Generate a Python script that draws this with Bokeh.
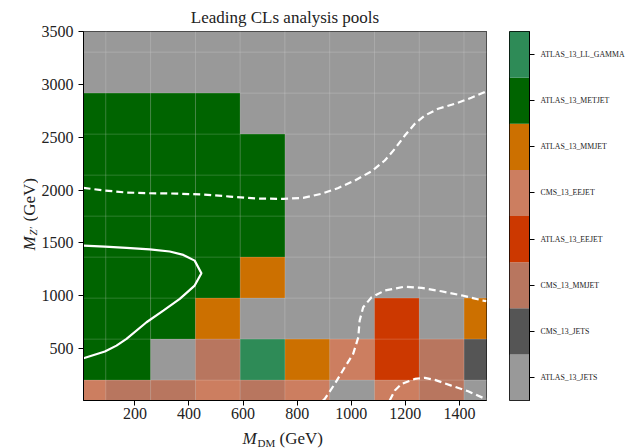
import math
from bokeh.plotting import figure
from bokeh.layouts import row, column
from bokeh.models import FixedTicker, Range1d, ColumnDataSource
from bokeh.core.properties import value
from bokeh.embed import file_html
from bokeh.resources import INLINE

# ---------------- data ----------------
m_dm = [10, 175.6, 341.1, 506.7, 672.2, 837.8, 1003.3, 1168.9, 1334.4, 1500]
m_zp = [10, 397.8, 785.6, 1173.3, 1561.1, 1948.9, 2336.7, 2724.4, 3112.2, 3500]

# colour bar order, bottom to top
pool_names = ["ATLAS_13_JETS", "CMS_13_JETS", "CMS_13_MMJET", "ATLAS_13_EEJET",
              "CMS_13_EEJET", "ATLAS_13_MMJET", "ATLAS_13_METJET", "ATLAS_13_LL_GAMMA"]
pool_colors = ["#999999", "#555555", "#b8765f", "#cc3800",
               "#cc7e60", "#cc7000", "#006400", "#2e8b57"]

J, CJ, CM, AE, CE, AM, MET, LL = pool_names
# rows from lowest M_Z' to highest, columns from lowest M_DM to highest
leading_pool = [
    [CE, CM, CM, CE, CM, CE, J, CE, CM, J],
    [MET, MET, J, CM, LL, AM, CE, AE, CM, CJ],
    [MET, MET, MET, AM, J, J, J, AE, J, AM],
    [MET, MET, MET, MET, AM, J, J, J, J, J],
    [MET, MET, MET, MET, MET, J, J, J, J, J],
    [MET, MET, MET, MET, MET, J, J, J, J, J],
    [MET, MET, MET, MET, MET, J, J, J, J, J],
    [MET, MET, MET, MET, J, J, J, J, J, J],
    [J, J, J, J, J, J, J, J, J, J],
    [J, J, J, J, J, J, J, J, J, J],
]

# exclusion contours
solid_x = [10, 89, 169, 255, 329, 379, 421, 446, 421, 366, 305, 243, 169, 132, 89, 10]
solid_y = [1475, 1466, 1454, 1440, 1419, 1387, 1333, 1213, 1097, 971, 860, 750, 593, 529, 473, 409]

dashA_x = [10, 89, 169, 255, 354, 452, 551, 650, 748, 822, 890, 952, 1013, 1075,
           1124, 1161, 1198, 1235, 1272, 1321, 1383, 1444, 1500]
dashA_y = [2021, 1996, 1977, 1970, 1967, 1958, 1939, 1920, 1917, 1927, 1965, 2020, 2090, 2178,
           2280, 2390, 2516, 2627, 2705, 2769, 2816, 2873, 2935]

dashB_x = [895, 902, 939, 976, 1007, 1026, 1031, 1044, 1075, 1124, 1198, 1260, 1333, 1407, 1488, 1500]
dashB_y = [10, 25, 167, 324, 451, 608, 766, 892, 986, 1050, 1087, 1075, 1043, 1005, 955, 950]

dashC_x = [1142, 1161, 1186, 1235, 1272, 1309, 1370, 1432, 1488, 1500]
dashC_y = [10, 104, 167, 214, 224, 205, 151, 97, 34, 25]

# ---------------- layout constants ----------------
FONT = "Liberation Serif"
TXT = "#222222"
LEFT_W = 38          # strip holding the y-axis title
TOP, FRAME_H, BOT = 31, 369, 25

# ---------------- main heat map ----------------
p = figure(frame_width=403, frame_height=FRAME_H, output_backend="svg", toolbar_location=None,
           x_range=Range1d(10, 1500), y_range=Range1d(10, 3500),
           min_border_left=82 - LEFT_W, min_border_right=5, min_border_top=TOP,
           min_border_bottom=BOT, title="Leading CLs analysis pools")
p.title.align = "center"
p.title.text_font = FONT
p.title.text_font_size = "17px"
p.title.text_font_style = "normal"
p.title.text_color = TXT

dx = m_dm[1] - m_dm[0]
dy = m_zp[1] - m_zp[0]
cx, cy, cc = [], [], []
for j, r in enumerate(leading_pool):
    for i, name in enumerate(r):
        cx.append(m_dm[i])
        cy.append(m_zp[j])
        cc.append(pool_colors[pool_names.index(name)])
src = ColumnDataSource(dict(x=cx, y=cy, c=cc))
p.rect(x="x", y="y", width=dx, height=dy, fill_color="c", source=src,
       line_color="white", line_alpha=0.12, line_width=1)

p.line(solid_x, solid_y, line_color="white", line_width=2.2)
for xs, ys in [(dashA_x, dashA_y), (dashB_x, dashB_y), (dashC_x, dashC_y)]:
    p.line(xs, ys, line_color="white", line_width=2.2, line_dash="7 4")

p.grid.visible = False
p.outline_line_color = "black"
p.outline_line_width = 1
p.background_fill_color = "#999999"

for ax in (p.xaxis[0], p.yaxis[0]):
    ax.major_label_text_font = FONT
    ax.major_label_text_font_size = "16px"
    ax.major_label_text_color = TXT
    ax.minor_tick_line_color = None
    ax.major_tick_in = 0
    ax.major_tick_out = 5
    ax.axis_line_color = "black"
    ax.major_tick_line_color = "black"
p.xaxis.ticker = FixedTicker(ticks=[200, 400, 600, 800, 1000, 1200, 1400])
p.yaxis.ticker = FixedTicker(ticks=[500, 1000, 1500, 2000, 2500, 3000, 3500])
p.xaxis.major_label_standoff = 2
p.yaxis.major_label_standoff = 5

# ---------------- colour bar (categorical) ----------------
cb = figure(frame_width=20, frame_height=FRAME_H, output_backend="svg", toolbar_location=None,
            x_range=Range1d(0, 1), y_range=Range1d(0, len(pool_names)),
            min_border_left=18, min_border_right=0, min_border_top=TOP,
            min_border_bottom=BOT, x_axis_location=None, y_axis_location="right")
cb.quad(left=0, right=1, bottom=list(range(len(pool_names))),
        top=[k + 1 for k in range(len(pool_names))], fill_color=pool_colors, line_color=None)
cb.grid.visible = False
cb.outline_line_color = "black"
cb.outline_line_width = 1
ticks = [k + 0.5 for k in range(len(pool_names))]
cb.yaxis.ticker = FixedTicker(ticks=ticks)
cb.yaxis.major_label_overrides = {t: n for t, n in zip(ticks, pool_names)}
cb.yaxis.major_label_text_font = FONT
cb.yaxis.major_label_text_font_size = "7.8px"
cb.yaxis.major_label_text_color = TXT
cb.yaxis.major_tick_in = 0
cb.yaxis.major_tick_out = 5
cb.yaxis.minor_tick_line_color = None
cb.yaxis.major_label_standoff = 6
cb.yaxis.axis_line_color = "black"


# ---------------- axis titles (italic M with subscript) ----------------
def strip(w, h, x0, y0):
    # bare figure whose data units equal page pixels (x rightwards, y up from page bottom)
    s = figure(frame_width=w, frame_height=h, output_backend="svg", toolbar_location=None,
               x_range=Range1d(x0, x0 + w), y_range=Range1d(448 - y0 - h, 448 - y0),
               min_border=0, outline_line_color=None,
               x_axis_location=None, y_axis_location=None)
    s.grid.visible = False
    return s


def put(s, x, y, text, size, style="normal", angle=0.0):
    s.text(x=[x], y=[448 - y], text=[text], text_font=value(FONT), text_font_size=size,
           text_font_style=style, text_color=TXT, text_align="left",
           text_baseline="alphabetic", angle=angle)


bottom = strip(625 - LEFT_W, 448 - (TOP + FRAME_H + BOT), LEFT_W, TOP + FRAME_H + BOT)
put(bottom, 242, 438, "M", "17px", "italic")
put(bottom, 257, 442, "DM", "11px")
put(bottom, 279, 438, "(GeV)", "17px")

left = strip(LEFT_W, 448, 0, 0)
a = math.pi / 2
put(left, 28.5, 250, "M", "17px", "italic", a)
put(left, 32, 235, "Z\u2032", "11px", "italic", a)
put(left, 28.5, 221, "(GeV)", "17px", "normal", a)

layout = row(left, column(row(p, cb, spacing=0), bottom, spacing=0), spacing=0)
open("out.html", "w").write(file_html(layout, INLINE))
